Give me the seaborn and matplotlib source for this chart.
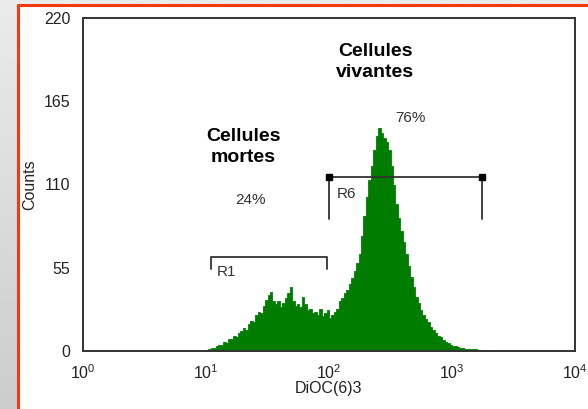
import numpy as np
import seaborn as sns
import matplotlib.pyplot as plt
from matplotlib.patches import Rectangle
from matplotlib.lines import Line2D

# --- histogram channels (log10 units) and counts ---
log_start = 1.0
bin_width = 0.02
counts = [
    0.5, 1, 2, 2, 3, 4, 4, 6, 5, 8,            # 1.00 - 1.18
    8, 10, 9, 12, 13, 15, 14, 18, 20, 19,      # 1.20 - 1.38
    24, 26, 25, 30, 34, 37, 39, 33, 31, 33,    # 1.40 - 1.58
    29, 32, 35, 38, 42, 33, 30, 31, 29, 36,    # 1.60 - 1.78
    31, 27, 28, 25, 26, 24, 28, 23, 25, 27,    # 1.80 - 1.98
    22, 24, 26, 28, 33, 35, 38, 40, 44, 48,    # 2.00 - 2.18
    53, 58, 64, 76, 89, 102, 113, 122, 133, 142,  # 2.20 - 2.38
    147, 144, 141, 138, 133, 122, 110, 97, 88, 79,  # 2.40 - 2.58
    72, 64, 56, 49, 42, 36, 32, 27, 24, 21,    # 2.60 - 2.78
    19, 16, 14, 12, 10, 9, 7, 6, 5, 4,         # 2.80 - 2.98
    3.5, 3, 2.5, 2, 2, 1.5, 1.5, 1, 1, 1,      # 3.00 - 3.18
    0.5, 0.5, 0.5, 0.5, 0.5, 0.5,              # 3.20 - 3.30
]

# gates: (start, end, bar level, tick bottom)
r1_gate = (11.0, 96.0, 62, 54)
r6_gate = (100.0, 1750.0, 115, 87)

y_ticks = [0, 55, 110, 165, 220]
x_ticks = [1, 10, 100, 1000, 10000]

green = '#007d00'
dark = '#333333'

sns.set_style("white")
plt.rcParams['font.family'] = ['Liberation Sans', 'DejaVu Sans']

fig = plt.figure(figsize=(5.88, 4.09), dpi=100)

# gray gradient backdrop with the red frame
bg = fig.add_axes([0, 0, 1, 1], zorder=-5)
grad = np.linspace(0.92, 0.80, 200).reshape(-1, 1)
bg.imshow(grad, cmap='gray', vmin=0, vmax=1, aspect='auto', extent=[0, 1, 0, 1])
bg.add_patch(Rectangle((18 / 588, 0), 1, 1 - 5 / 409, color='white'))
bg.set_xlim(0, 1)
bg.set_ylim(0, 1)
bg.axis('off')
fig.add_artist(Line2D([18 / 588, 18 / 588], [0, 1 - 5 / 409], color='#f23a10', lw=2.2))
fig.add_artist(Line2D([18 / 588, 1], [1 - 5 / 409, 1 - 5 / 409], color='#f23a10', lw=2.2))

ax = fig.add_axes([83 / 588, 1 - 351 / 409, 492 / 588, 333 / 409])
ax.set_facecolor('white')

centers = 10 ** (log_start + bin_width * (np.arange(len(counts)) + 0.5))
sns.histplot(x=centers, weights=counts, binwidth=bin_width,
             binrange=(log_start, log_start + bin_width * len(counts)),
             log_scale=True, element='step', fill=True, color=green,
             alpha=1, linewidth=0.6, ax=ax)

# gate markers
x0, x1, lvl, low = r1_gate
ax.plot([x0, x0, x1, x1], [low, lvl, lvl, low], color=dark, lw=1.3)
x0, x1, lvl, low = r6_gate
ax.plot([x0, x0, x1, x1], [low, lvl, lvl, low], color=dark, lw=1.3)
ax.plot([x0, x1], [lvl, lvl], 's', color='black', ms=4)

ax.text(12.3, 52, 'R1', fontsize=11, color=dark, va='center', ha='left')
ax.text(116, 104, 'R6', fontsize=11, color=dark, va='center', ha='left')
ax.text(20, 135, 'Cellules\nmortes', fontsize=14, fontweight='bold',
        color='black', ha='center', va='center', linespacing=1.3)
ax.text(23.2, 100, '24%', fontsize=11, color=dark, ha='center', va='center')
ax.text(237, 191, 'Cellules\nvivantes', fontsize=14, fontweight='bold',
        color='black', ha='center', va='center', linespacing=1.3)
ax.text(456, 154, '76%', fontsize=11, color=dark, ha='center', va='center')

ax.set_xlim(1, 10000)
ax.set_ylim(0, 220)
ax.set_yticks(y_ticks)
ax.set_xticks(x_ticks)
ax.minorticks_off()
ax.tick_params(axis='both', direction='out', length=6, width=1.3, color=dark,
               labelsize=11.5, labelcolor='#222222', pad=3)
ax.tick_params(axis='both', which='minor', length=0)
for side in ['left', 'right', 'top', 'bottom']:
    ax.spines[side].set_color(dark)
    ax.spines[side].set_linewidth(1.4)
ax.set_xlabel('')
ax.set_ylabel('')

fig.text(30 / 588, 1 - 185 / 409, 'Counts', rotation=90, fontsize=11.5,
         color='#222222', ha='center', va='center')
fig.text(328 / 588, 1 - 389 / 409, 'DiOC(6)3', fontsize=11.5,
         color='#222222', ha='center', va='center')

fig.savefig('out.png', dpi=100)
